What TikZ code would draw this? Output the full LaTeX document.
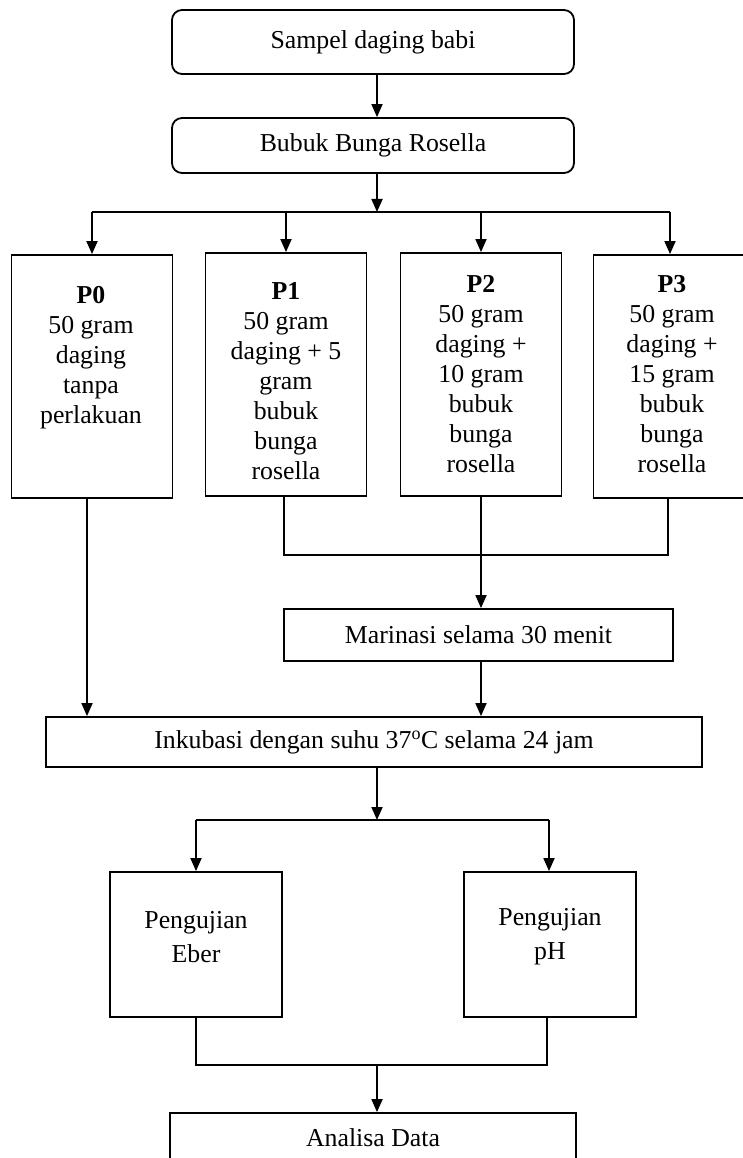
\documentclass[tikz,border=0pt]{standalone}
\usepackage{fontspec}
\setmainfont{Liberation Serif}
\usetikzlibrary{arrows.meta}
\newcommand\fsz{\fontsize{25.8}{30}\selectfont}
\newcommand\fszb{\fontsize{25.8}{34}\selectfont}
\begin{document}
\begin{tikzpicture}[x=1pt,y=-1pt,
  box/.style={draw,line width=1.8pt,inner sep=0pt,font=\fsz},
  rbox/.style={box,rounded corners=10pt},
  txt/.style={align=center,inner sep=0pt,font=\fsz},
  conn/.style={line width=1.8pt},
  arr/.style={conn,-{Triangle[length=13pt,width=11pt]}}]
\useasboundingbox (0,0) rectangle (742,1158);
% boxes
\node[rbox,minimum width=402pt,minimum height=64pt] (s1) at (373,42) {Sampel daging babi};
\node[rbox,minimum width=402pt,minimum height=55pt] (s2) at (373,145.5) {Bubuk Bunga Rosella};
\node[box,minimum width=161pt,minimum height=243pt] (p0) at (92,376.5) {};
\node[box,minimum width=161pt,minimum height=243pt] (p1) at (286,374.5) {};
\node[box,minimum width=161pt,minimum height=243pt] (p2) at (481,374.5) {};
\node[box,minimum width=161pt,minimum height=243pt] (p3) at (674,376.5) {};
\node[txt] (t0) at (91,358) {\textbf{P0}\\50 gram\\daging\\tanpa\\perlakuan};
\node[txt] (t1) at (286,381) {\textbf{P1}\\50 gram\\daging + 5\\gram\\bubuk\\bunga\\rosella};
\node[txt] (t2) at (481,374.5) {\textbf{P2}\\50 gram\\daging +\\10 gram\\bubuk\\bunga\\rosella};
\node[txt] (t3) at (672,374.5) {\textbf{P3}\\50 gram\\daging +\\15 gram\\bubuk\\bunga\\rosella};
\node[box,minimum width=389pt,minimum height=52pt] (mar) at (478.5,635) {Marinasi selama 30 menit};
\node[box,minimum width=656pt,minimum height=50pt] (ink) at (374,742) {Inkubasi dengan suhu 37\textsuperscript{o}C selama 24 jam};
\node[box,minimum width=172pt,minimum height=145pt] (eber) at (196,944.5) {};
\node[box,minimum width=172pt,minimum height=145pt] (ph) at (550,944.5) {};
\node[txt,font=\fszb] (te) at (196,937) {Pengujian\\Eber};
\node[txt,font=\fszb] (tp) at (550,937) {Pengujian\\pH};
\node[box,minimum width=406pt,minimum height=50pt] (ana) at (373,1138) {Analisa Data};
% connectors
\coordinate (j1) at (377,212);
\coordinate (bl) at (92,212);
\coordinate (br) at (670,212);
\coordinate (b1) at (286,212);
\coordinate (b2) at (481,212);
\draw[arr] (s1.south -| j1) -- (s2.north -| j1);
\draw[arr] (s2.south -| j1) -- (j1);
\draw[conn] (bl) -- (br);
\draw[arr] (bl) -- (p0.north -| bl);
\draw[arr] (b1) -- (p1.north -| b1);
\draw[arr] (b2) -- (p2.north -| b2);
\draw[arr] (br) -- (p3.north -| br);
\coordinate (m1) at (284,555);
\coordinate (m3) at (668,555);
\coordinate (m2) at (481,555);
\draw[conn] (p1.south -| m1) -- (m1) -- (m3) -- (p3.south -| m3);
\draw[arr] (p2.south -| m2) -- (mar.north -| m2);
\draw[arr] (mar.south -| m2) -- (ink.north -| m2);
\coordinate (c0) at (87,498);
\draw[arr] (p0.south -| c0) -- (ink.north -| c0);
\coordinate (j2) at (377,820);
\coordinate (el) at (196,820);
\coordinate (er) at (549,820);
\draw[arr] (ink.south -| j2) -- (j2);
\draw[conn] (el) -- (er);
\draw[arr] (el) -- (eber.north -| el);
\draw[arr] (er) -- (ph.north -| er);
\coordinate (k1) at (196,1065);
\coordinate (k2) at (547,1065);
\coordinate (k0) at (377,1065);
\draw[conn] (eber.south -| k1) -- (k1) -- (k2) -- (ph.south -| k2);
\draw[arr] (k0) -- (ana.north -| k0);
\end{tikzpicture}
\end{document}
